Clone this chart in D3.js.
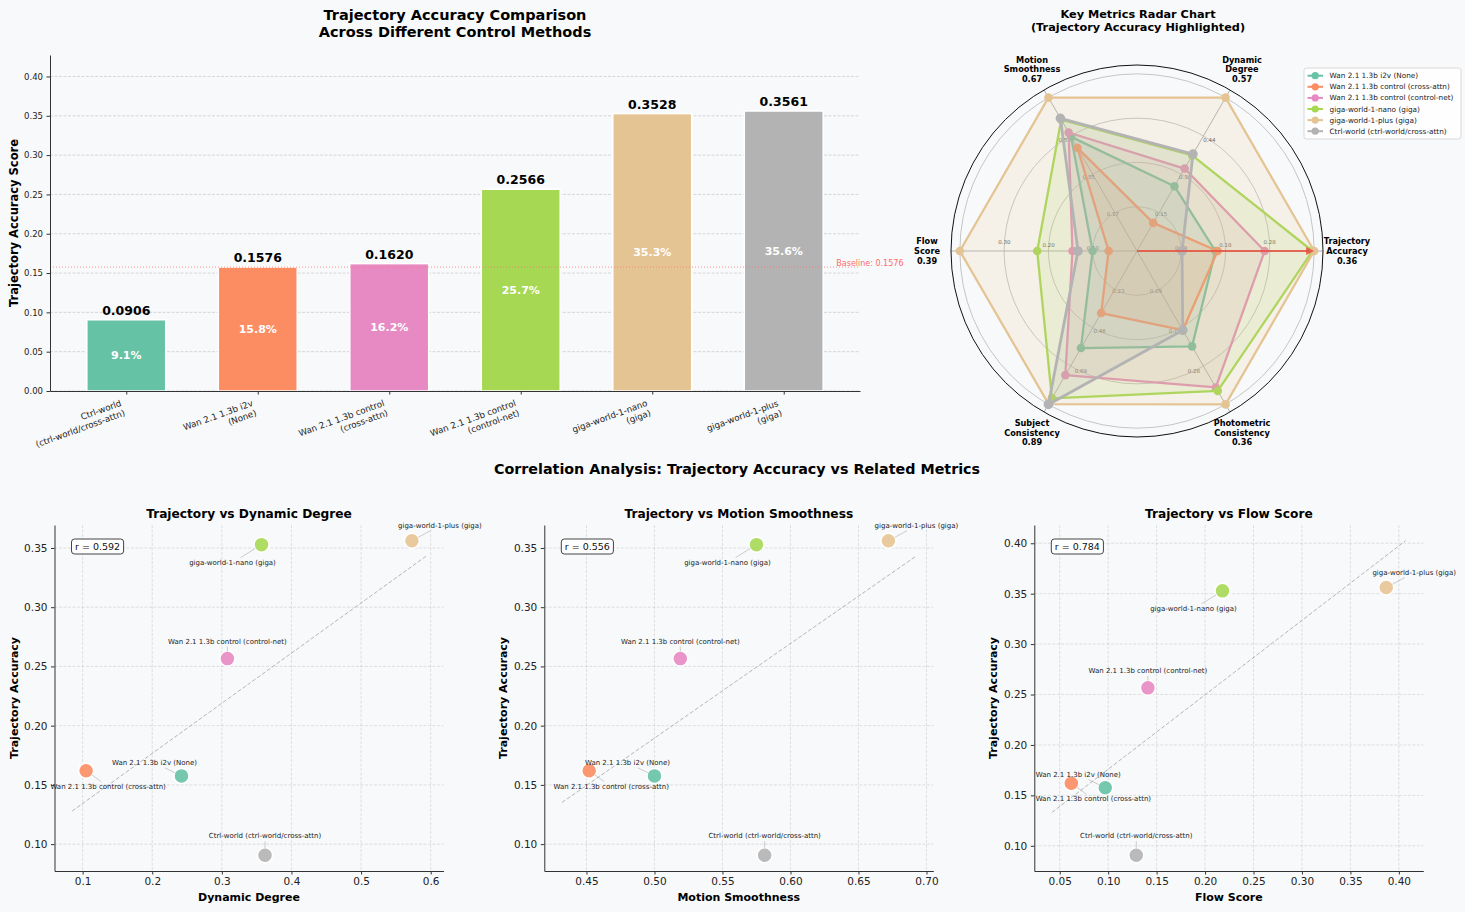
<!DOCTYPE html>
<html><head><meta charset="utf-8">
<script src="https://cdn.jsdelivr.net/npm/d3@7"></script>
<style>
body{margin:0;background:#f8f9fa;}
svg{display:block;font-family:"DejaVu Sans",sans-serif;}
</style></head><body>
<svg id="chart" width="1465" height="912"></svg>
<script>
// ---------------- DATA ----------------
const models = [
  "Wan 2.1 1.3b i2v (None)",
  "Wan 2.1 1.3b control (cross-attn)",
  "Wan 2.1 1.3b control (control-net)",
  "giga-world-1-nano (giga)",
  "giga-world-1-plus (giga)",
  "Ctrl-world (ctrl-world/cross-attn)"
];
const trajectoryAccuracy     = [0.1576, 0.1620, 0.2566, 0.3528, 0.3561, 0.0906];
const dynamicDegree          = [0.242, 0.105, 0.308, 0.357, 0.573, 0.362];
const motionSmoothness       = [0.500, 0.452, 0.519, 0.575, 0.672, 0.581];
const flowScore              = [0.097, 0.062, 0.141, 0.218, 0.387, 0.129];
const subjectConsistency     = [0.563, 0.360, 0.720, 0.855, 0.888, 0.890];
const photometricConsistency = [0.225, 0.187, 0.322, 0.330, 0.362, 0.187];

const palette = ["#66c2a5", "#fc8d62", "#e78ac3", "#a6d854", "#e5c494", "#b3b3b3"];

const radarAxes = ["Trajectory Accuracy", "Dynamic Degree", "Motion Smoothness",
                   "Flow Score", "Subject Consistency", "Photometric Consistency"];
const radarTickLabels = [
  ["0.09", "0.18", "0.28"],
  ["0.15", "0.30", "0.44"],
  ["0.17", "0.35", "0.52"],
  ["0.10", "0.20", "0.30"],
  ["0.23", "0.46", "0.69"],
  ["0.09", "0.19", "0.28"]
];
const radarGridLevels = [0.25, 0.5, 0.75, 1.0];

const barYTicks = [0, 0.05, 0.10, 0.15, 0.20, 0.25, 0.30, 0.35, 0.40];

const scatterNames = ["Dynamic Degree", "Motion Smoothness", "Flow Score"];
const correlationLabels = ["r = 0.592", "r = 0.556", "r = 0.784"];
const scatterXTicks = [
  [0.1, 0.2, 0.3, 0.4, 0.5, 0.6],
  [0.45, 0.50, 0.55, 0.60, 0.65, 0.70],
  [0.05, 0.10, 0.15, 0.20, 0.25, 0.30, 0.35, 0.40]
];
const scatterYTicks = [
  [0.10, 0.15, 0.20, 0.25, 0.30, 0.35],
  [0.10, 0.15, 0.20, 0.25, 0.30, 0.35],
  [0.10, 0.15, 0.20, 0.25, 0.30, 0.35, 0.40]
];
const scatterXFormats = [".1f", ".2f", ".2f"];

// ---------------- STYLE / LAYOUT ----------------
const FONT = '"DejaVu Sans", sans-serif';
const BG = "#f8f9fa";
const svg = d3.select("#chart");
svg.append("rect").attr("width", 1465).attr("height", 912).attr("fill", BG);

function styleAxis(g, fs) {
  g.selectAll(".domain").attr("stroke", "#333").attr("stroke-width", 1);
  g.selectAll(".tick line").attr("stroke", "#333");
  g.selectAll(".tick text").attr("fill", "#222").style("font-size", fs + "px").style("font-family", FONT);
}

// ---------------- BAR CHART ----------------
(function () {
  const L = 50, R = 860, T = 55, B = 391;
  const order = d3.range(models.length).sort((a, b) => trajectoryAccuracy[a] - trajectoryAccuracy[b]);
  const names = order.map(i => models[i]);
  const vals = order.map(i => trajectoryAccuracy[i]);
  const n = vals.length, bw = 0.6;
  const ext = [-bw / 2, n - 1 + bw / 2], pad = (ext[1] - ext[0]) * 0.05;
  const x = d3.scaleLinear().domain([ext[0] - pad, ext[1] + pad]).range([L, R]);
  const y = d3.scaleLinear().domain([0, d3.max(vals) * 1.2]).range([B, T]);
  const g = svg.append("g");

  g.selectAll("line.grid").data(barYTicks).join("line")
    .attr("x1", L).attr("x2", R).attr("y1", d => y(d)).attr("y2", d => y(d))
    .attr("stroke", "#b0b0b0").attr("stroke-opacity", 0.6).attr("stroke-width", 0.8)
    .attr("stroke-dasharray", "3,1.5");

  g.selectAll("rect.bar").data(vals).join("rect")
    .attr("x", (d, i) => x(i - bw / 2)).attr("width", x(bw) - x(0))
    .attr("y", d => y(d)).attr("height", d => y(0) - y(d))
    .attr("fill", (d, i) => palette[i]).attr("stroke", "#fff").attr("stroke-width", 1.5);

  const base = trajectoryAccuracy[0];
  g.append("line").attr("x1", L).attr("x2", R).attr("y1", y(base)).attr("y2", y(base))
    .attr("stroke", "#ff6b6b").attr("stroke-opacity", 0.7).attr("stroke-width", 1)
    .attr("stroke-dasharray", "1,2");
  g.append("text").attr("x", x(n - 0.6)).attr("y", y(base) - 1.5)
    .attr("fill", "#ff6b6b").style("font-size", "8px").style("font-family", FONT)
    .text("Baseline: " + base.toFixed(4));

  g.selectAll("text.val").data(vals).join("text")
    .attr("x", (d, i) => x(i)).attr("y", d => y(d) - 5).attr("text-anchor", "middle")
    .style("font-size", "12.5px").style("font-weight", "bold").style("font-family", FONT)
    .text(d => d.toFixed(4));
  g.selectAll("text.pct").data(vals).join("text")
    .attr("x", (d, i) => x(i)).attr("y", d => y(d / 2)).attr("text-anchor", "middle")
    .attr("dominant-baseline", "central").attr("fill", "#fff")
    .style("font-size", "11px").style("font-weight", "bold").style("font-family", FONT)
    .text(d => (d * 100).toFixed(1) + "%");

  const ya = g.append("g").attr("transform", `translate(${L},0)`)
    .call(d3.axisLeft(y).tickValues(barYTicks).tickFormat(d3.format(".2f")).tickSize(3.5).tickPadding(3.5).tickSizeOuter(0));
  styleAxis(ya, 8.5);
  const xa = g.append("g").attr("transform", `translate(0,${B})`)
    .call(d3.axisBottom(x).tickValues(d3.range(n)).tickFormat("").tickSize(3.5).tickSizeOuter(0));
  styleAxis(xa, 8.5);

  names.forEach((nm, i) => {
    const k = nm.indexOf(" (");
    const lines = [nm.slice(0, k), nm.slice(k + 1)];
    const outer = g.append("g").attr("transform", `translate(${x(i)},${B + 7})`);
    const mid = outer.append("g");
    const inner = mid.append("g").attr("transform", "rotate(-20)");
    lines.forEach((ln, j) => {
      inner.append("text").attr("x", 0).attr("y", j * 10.4).attr("text-anchor", "end")
        .attr("fill", "#222").style("font-size", "8.7px").style("font-family", FONT).text(ln);
    });
    const bb = outer.node().getBBox();
    mid.attr("transform", `translate(${-(bb.x + bb.width)},${-bb.y})`);
  });

  g.append("text").attr("transform", `translate(14,${(T + B) / 2}) rotate(-90)`)
    .attr("text-anchor", "middle").attr("dominant-baseline", "central")
    .style("font-size", "11.5px").style("font-weight", "bold").style("font-family", FONT)
    .text("Trajectory Accuracy Score");
  ["Trajectory Accuracy Comparison", "Across Different Control Methods"].forEach((t, j) => {
    g.append("text").attr("x", 455).attr("y", 20 + j * 16.5).attr("text-anchor", "middle")
      .style("font-size", "14.5px").style("font-weight", "bold").style("font-family", FONT).text(t);
  });
})();

// ---------------- RADAR ----------------
(function () {
  const cx = 1137, cy = 251, Rout = 186;
  const metrics = [trajectoryAccuracy, dynamicDegree, motionSmoothness, flowScore, subjectConsistency, photometricConsistency];
  const maxes = metrics.map(m => d3.max(m));
  const r = d3.scaleLinear().domain([0, 1.05]).range([0, Rout]);
  const ang = i => i * Math.PI / 3;
  const pt = (a, rr) => [cx + rr * Math.cos(a), cy - rr * Math.sin(a)];
  const g = svg.append("g");

  g.selectAll("circle.grid").data(radarGridLevels).join("circle")
    .attr("cx", cx).attr("cy", cy).attr("r", d => r(d))
    .attr("fill", "none").attr("stroke", "#b8b8b8").attr("stroke-width", 0.8);
  radarAxes.forEach((a, i) => {
    const p = pt(ang(i), Rout);
    g.append("line").attr("x1", cx).attr("y1", cy).attr("x2", p[0]).attr("y2", p[1])
      .attr("stroke", "#b0b0b0").attr("stroke-width", 1);
  });
  g.append("circle").attr("cx", cx).attr("cy", cy).attr("r", Rout)
    .attr("fill", "none").attr("stroke", "#111").attr("stroke-width", 1);

  const offs = [4, -3, 3, -4, 5, -4.6];
  radarTickLabels.forEach((labs, i) => {
    labs.forEach((t, j) => {
      const p = pt(ang(i) + offs[i] * Math.PI / 180, r(radarGridLevels[j]));
      g.append("text").attr("x", p[0]).attr("y", p[1]).attr("text-anchor", "middle")
        .attr("dominant-baseline", "central").attr("fill", "#555")
        .style("font-size", "5.5px").style("font-family", FONT).text(t);
    });
  });

  const line = d3.line().curve(d3.curveLinearClosed);
  models.forEach((m, k) => {
    const pts = metrics.map((arr, i) => pt(ang(i), r(arr[k] / maxes[i])));
    const lw = k === 5 ? 2.8 : 2.3;
    g.append("path").attr("d", line(pts)).attr("fill", palette[k]).attr("fill-opacity", 0.16)
      .attr("stroke", palette[k]).attr("stroke-width", lw).attr("stroke-linejoin", "round");
    g.selectAll(null).data(pts).join("circle").attr("cx", d => d[0]).attr("cy", d => d[1])
      .attr("r", k === 5 ? 4.8 : 4.3).attr("fill", palette[k]);
  });

  const tip = pt(0, r(1));
  g.append("line").attr("x1", cx).attr("y1", cy).attr("x2", tip[0] - 6).attr("y2", tip[1])
    .attr("stroke", "#e74c3c").attr("stroke-opacity", 0.8).attr("stroke-width", 2);
  g.append("path").attr("d", `M${tip[0]},${tip[1]} L${tip[0] - 8},${tip[1] - 4} L${tip[0] - 8},${tip[1] + 4} Z`)
    .attr("fill", "#e74c3c").attr("fill-opacity", 0.85);

  radarAxes.forEach((a, i) => {
    const words = a.split(" ");
    const lines = [words[0], words.slice(1).join(" "), maxes[i].toFixed(2)];
    const p = pt(ang(i), 210);
    lines.forEach((t, j) => {
      g.append("text").attr("x", p[0]).attr("y", p[1] + (j - 1) * 9.6)
        .attr("text-anchor", "middle").attr("dominant-baseline", "central")
        .style("font-size", "8.2px").style("font-weight", "bold").style("font-family", FONT).text(t);
    });
  });

  ["Key Metrics Radar Chart", "(Trajectory Accuracy Highlighted)"].forEach((t, j) => {
    g.append("text").attr("x", 1138).attr("y", 18 + j * 13).attr("text-anchor", "middle")
      .style("font-size", "11.3px").style("font-weight", "bold").style("font-family", FONT).text(t);
  });

  const lg = g.append("g");
  lg.append("rect").attr("x", 1304).attr("y", 68).attr("width", 157).attr("height", 71)
    .attr("rx", 2.5).attr("fill", "#fff").attr("fill-opacity", 0.85).attr("stroke", "#d0d0d0").attr("stroke-width", 0.8);
  models.forEach((m, k) => {
    const yy = 75.7 + k * 11.1;
    lg.append("line").attr("x1", 1307.5).attr("x2", 1323).attr("y1", yy).attr("y2", yy)
      .attr("stroke", palette[k]).attr("stroke-width", 2);
    lg.append("circle").attr("cx", 1315.2).attr("cy", yy).attr("r", 3.6).attr("fill", palette[k]);
    lg.append("text").attr("x", 1329.5).attr("y", yy).attr("dominant-baseline", "central")
      .attr("fill", "#222").style("font-size", "7.3px").style("font-family", FONT).text(m);
  });
})();

// ---------------- SCATTER PLOTS ----------------
svg.append("text").attr("x", 737).attr("y", 474).attr("text-anchor", "middle")
  .style("font-size", "14.3px").style("font-weight", "bold").style("font-family", FONT)
  .text("Correlation Analysis: Trajectory Accuracy vs Related Metrics");

const annOffsets = [[-27, -13], [22, 16], [0, -17], [-29, 18], [28, -15], [0, -19]];
const scatterMetrics = [dynamicDegree, motionSmoothness, flowScore];
const panelLefts = [54.5, 544.3, 1034.3];

scatterMetrics.forEach((xs, p) => {
  const L = panelLefts[p], W = 389, T = 525, B = 871, R = L + W;
  const ys = trajectoryAccuracy;
  const mx = d3.mean(xs), my = d3.mean(ys);
  const slope = d3.sum(xs, (v, i) => (v - mx) * (ys[i] - my)) / d3.sum(xs, v => (v - mx) * (v - mx));
  const icpt = my - slope * mx;
  const lx0 = d3.min(xs) - 0.02, lx1 = d3.max(xs) + 0.02;
  const ly0 = icpt + slope * lx0, ly1 = icpt + slope * lx1;
  const xpad = (lx1 - lx0) * 0.05;
  const yLo = Math.min(d3.min(ys), ly0, ly1), yHi = Math.max(d3.max(ys), ly0, ly1);
  const ypad = (yHi - yLo) * 0.05;
  const x = d3.scaleLinear().domain([lx0 - xpad, lx1 + xpad]).range([L, R]);
  const y = d3.scaleLinear().domain([yLo - ypad, yHi + ypad]).range([B, T]);
  const g = svg.append("g");

  g.selectAll("line.gx").data(scatterXTicks[p]).join("line")
    .attr("x1", d => x(d)).attr("x2", d => x(d)).attr("y1", T).attr("y2", B)
    .attr("stroke", "#b0b0b0").attr("stroke-opacity", 0.45).attr("stroke-width", 0.8).attr("stroke-dasharray", "3,1.5");
  g.selectAll("line.gy").data(scatterYTicks[p]).join("line")
    .attr("x1", L).attr("x2", R).attr("y1", d => y(d)).attr("y2", d => y(d))
    .attr("stroke", "#b0b0b0").attr("stroke-opacity", 0.45).attr("stroke-width", 0.8).attr("stroke-dasharray", "3,1.5");

  g.append("line").attr("x1", x(lx0)).attr("y1", y(ly0)).attr("x2", x(lx1)).attr("y2", y(ly1))
    .attr("stroke", "#999").attr("stroke-opacity", 0.7).attr("stroke-width", 1).attr("stroke-dasharray", "4,2");

  g.selectAll("circle.pt").data(xs).join("circle")
    .attr("cx", d => x(d)).attr("cy", (d, i) => y(ys[i])).attr("r", 7.5)
    .attr("fill", (d, i) => palette[i]).attr("fill-opacity", 0.9)
    .attr("stroke", "#fff").attr("stroke-width", 1.5);

  xs.forEach((v, i) => {
    const px = x(v), py = y(ys[i]);
    const tx = px + annOffsets[i][0], ty = py + annOffsets[i][1];
    const t = g.append("text").attr("x", tx).attr("y", ty).attr("text-anchor", "middle")
      .attr("dominant-baseline", "central").attr("fill", "#222")
      .style("font-size", "7px").style("font-family", FONT).text(models[i]);
    const bb = t.node().getBBox();
    const dx = px - tx, dy = py - ty;
    const len = Math.hypot(dx, dy);
    if (len > 0) {
      const hw = bb.width / 2 + 1, hh = bb.height / 2 + 1;
      const s = Math.min(dx === 0 ? Infinity : hw / Math.abs(dx), dy === 0 ? Infinity : hh / Math.abs(dy));
      const sx = tx + dx * s, sy = ty + dy * s;
      const ex = px - dx / len * 7, ey = py - dy / len * 7;
      if (Math.hypot(ex - sx, ey - sy) > 1 && s < 1)
        g.insert("line", "text").attr("x1", sx).attr("y1", sy).attr("x2", ex).attr("y2", ey)
          .attr("stroke", "#999").attr("stroke-opacity", 0.6).attr("stroke-width", 0.8);
    }
  });

  const xa = g.append("g").attr("transform", `translate(0,${B})`)
    .call(d3.axisBottom(x).tickValues(scatterXTicks[p]).tickFormat(d3.format(scatterXFormats[p])).tickSize(3.5).tickPadding(3.5).tickSizeOuter(0));
  styleAxis(xa, 10.5);
  const ya = g.append("g").attr("transform", `translate(${L},0)`)
    .call(d3.axisLeft(y).tickValues(scatterYTicks[p]).tickFormat(d3.format(".2f")).tickSize(3.5).tickPadding(3.5).tickSizeOuter(0));
  styleAxis(ya, 10.5);

  const rt = g.append("text").attr("x", L + 20.5).attr("y", T + 21.5).attr("dominant-baseline", "central")
    .attr("fill", "#111").style("font-size", "9.5px").style("font-family", FONT).text(correlationLabels[p]);
  const rb = rt.node().getBBox();
  g.insert("rect", "text").attr("x", rb.x - 3.5).attr("y", rb.y - 2).attr("width", rb.width + 7).attr("height", rb.height + 4)
    .attr("rx", 3).attr("fill", "#fff").attr("fill-opacity", 0.85).attr("stroke", "#444").attr("stroke-width", 1);
  rt.raise();

  g.append("text").attr("x", (L + R) / 2).attr("y", 518).attr("text-anchor", "middle")
    .style("font-size", "12.2px").style("font-weight", "bold").style("font-family", FONT)
    .text("Trajectory vs " + scatterNames[p]);
  g.append("text").attr("x", (L + R) / 2).attr("y", 901).attr("text-anchor", "middle")
    .style("font-size", "11px").style("font-weight", "bold").style("font-family", FONT)
    .text(scatterNames[p]);
  g.append("text").attr("transform", `translate(${L - 40.5},${(T + B) / 2}) rotate(-90)`)
    .attr("text-anchor", "middle").attr("dominant-baseline", "central")
    .style("font-size", "11px").style("font-weight", "bold").style("font-family", FONT)
    .text("Trajectory Accuracy");
});
</script>
</body></html>
